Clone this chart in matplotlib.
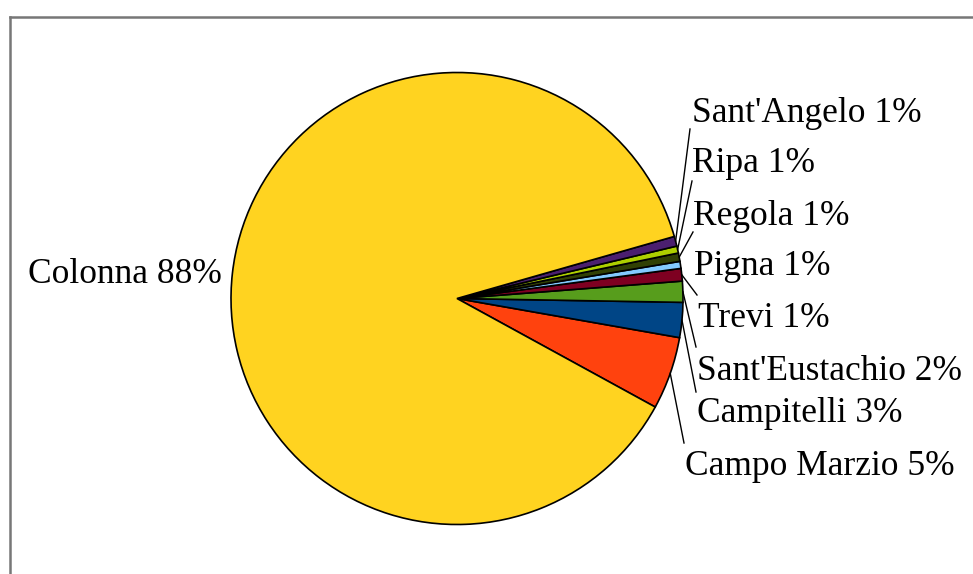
import math
import numpy as np
import matplotlib
matplotlib.use("Agg")
import matplotlib.pyplot as plt
from matplotlib.lines import Line2D

# Data (share in %), in counter-clockwise drawing order
categories = ["Campo Marzio", "Campitelli", "Sant'Eustachio", "Trevi", "Pigna",
              "Regola", "Ripa", "Sant'Angelo", "Colonna"]
values = [5.2, 2.5, 1.5, 0.9, 0.5, 0.6, 0.5, 0.7, 87.6]
colors = ["#FF420E", "#004586", "#579D1C", "#7E0021", "#83CAFF",
          "#314004", "#AECF00", "#4B1F6F", "#FFD320"]

W, H = 973, 574
fig = plt.figure(figsize=(W / 100, H / 100), dpi=100)
ax = fig.add_axes([0, 0, 1, 1])

cx, cy, R = 457, H - 298.5, 226
start = -28.7
wedges, _ = ax.pie(values, colors=colors, startangle=start, counterclock=True,
                   center=(cx, cy), radius=R,
                   wedgeprops=dict(edgecolor="black", linewidth=1.2))
ax.set_xlim(0, W)
ax.set_ylim(0, H)
ax.set_aspect("equal")
ax.axis("off")

# label layout: (x, baseline y in px from top, ha, leader end (x, y) or None)
layout = {
    "Campo Marzio": (685, 475, "left", (684, 443)),
    "Campitelli": (697, 422, "left", (696, 392)),
    "Sant'Eustachio": (697, 380, "left", (696, 347)),
    "Trevi": (698, 327, "left", (697, 295)),
    "Pigna": (694, 275, "left", None),
    "Regola": (693, 225, "left", (693, 232)),
    "Ripa": (692, 172, "left", (692, 181)),
    "Sant'Angelo": (692, 122, "left", (690, 129)),
    "Colonna": (222, 283, "right", None),
}

font = dict(family=["Liberation Serif", "DejaVu Serif"], size=25.5, color="black")
for w, cat, v in zip(wedges, categories, values):
    x, yb, ha, lead = layout[cat]
    pct = int(math.floor(v + 0.5))
    ax.text(x, H - yb, f"{cat} {pct}%", ha=ha, va="baseline", **font)
    if lead is not None:
        mid = math.radians((w.theta1 + w.theta2) / 2)
        rx = cx + R * math.cos(mid)
        ry = cy + R * math.sin(mid)
        ax.add_line(Line2D([rx, lead[0]], [ry, H - lead[1]], color="black", lw=1.0))

# chart frame (gray)
ax.add_line(Line2D([9.5, W], [H - 16.5, H - 16.5], color="#777777", lw=1.8, clip_on=False))
ax.add_line(Line2D([9.5, 9.5], [H - 16.5, 0], color="#777777", lw=1.8, clip_on=False))

fig.savefig("out.png", dpi=100)
